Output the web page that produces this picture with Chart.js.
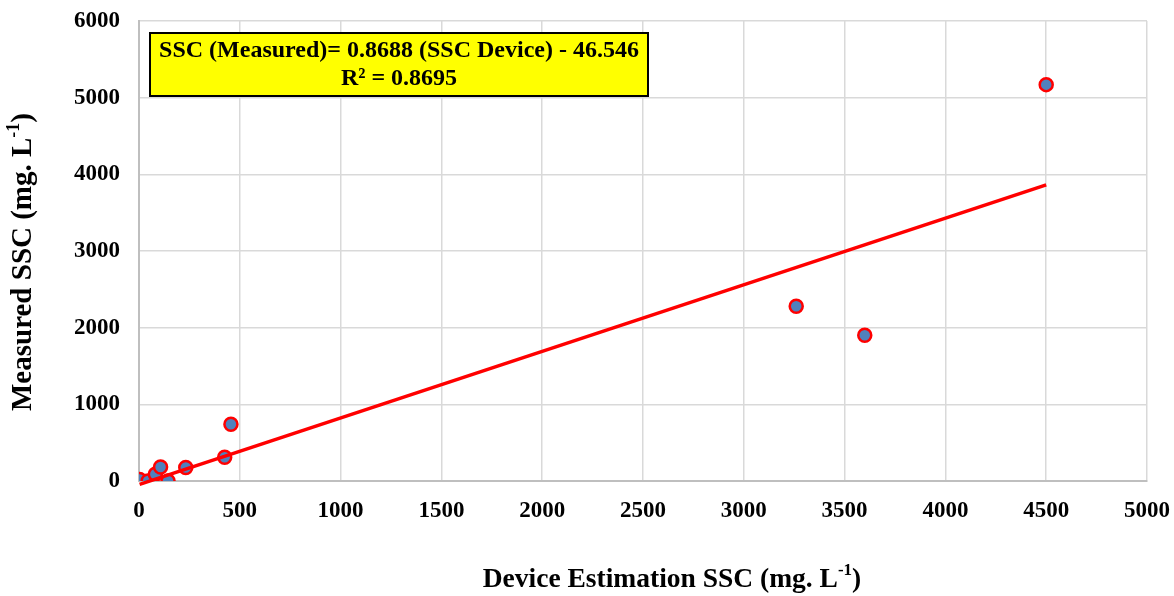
<!DOCTYPE html>
<html>
<head>
<meta charset="utf-8">
<script src="https://cdn.jsdelivr.net/npm/chart.js@4/dist/chart.umd.min.js"></script>
<style>
  html, body { margin: 0; padding: 0; background: #fff; }
  #wrap { width: 1174px; height: 596px; position: relative; }
</style>
</head>
<body>
<div id="wrap"><canvas id="sscChart"></canvas></div>
<script>
// values
const deviceSSC   = [3, 45, 81, 107, 144, 232, 425, 456, 3260, 3600, 4500];
const measuredSSC = [20, 0, 88, 183, 0, 175, 310, 740, 2280, 1900, 5170];

// linear fit given on the chart
const slope = 0.8688;
const intercept = -46.546;
const rSquared = 0.8695;

const xTicks = [0, 500, 1000, 1500, 2000, 2500, 3000, 3500, 4000, 4500, 5000];
const yTicks = [0, 1000, 2000, 3000, 4000, 5000, 6000];

const serif = '"Liberation Serif", "Times New Roman", serif';

const points = deviceSSC.map((x, i) => ({ x: x, y: measuredSSC[i] }));
const xMin = Math.min(...deviceSSC);
const xMax = Math.max(...deviceSSC);
const trend = [xMin, xMax].map(x => ({ x: x, y: slope * x + intercept }));

// text with a "-1" superscript before the closing bracket
function drawUnitText(ctx, base, sup, tail, cx, cy, size) {
    const mainFont = 'bold ' + size + 'px ' + serif;
    const supFont = 'bold ' + Math.round(size * 0.62) + 'px ' + serif;
    ctx.font = mainFont;
    const w1 = ctx.measureText(base).width;
    const w3 = ctx.measureText(tail).width;
    ctx.font = supFont;
    const w2 = ctx.measureText(sup).width;
    const start = cx - (w1 + w2 + w3) / 2;
    ctx.textBaseline = 'middle';
    ctx.textAlign = 'left';
    ctx.fillStyle = '#000';
    ctx.font = mainFont;
    ctx.fillText(base, start, cy);
    ctx.font = supFont;
    ctx.fillText(sup, start + w1, cy - size * 0.33);
    ctx.font = mainFont;
    ctx.fillText(tail, start + w1 + w2, cy);
}

const overlay = {
    id: 'overlay',
    afterDraw(chart) {
        const ctx = chart.ctx;
        const a = chart.chartArea;
        ctx.save();
        // equation box
        const bx = a.left + 11, by = a.top + 12, bw = 498, bh = 63;
        ctx.fillStyle = '#ffff00';
        ctx.fillRect(bx, by, bw, bh);
        ctx.lineWidth = 2;
        ctx.strokeStyle = '#000';
        ctx.strokeRect(bx, by, bw, bh);
        ctx.fillStyle = '#000';
        ctx.textAlign = 'center';
        ctx.textBaseline = 'middle';
        ctx.font = 'bold 24px ' + serif;
        ctx.fillText('SSC (Measured)= ' + slope + ' (SSC Device) - ' + Math.abs(intercept), bx + bw / 2, by + 18);
        ctx.fillText('R\u00b2 = ' + rSquared, bx + bw / 2, by + 46);

        // axis titles
        drawUnitText(ctx, 'Device Estimation SSC (mg. L', '-1', ')', 672, 580, 27.5);
        ctx.translate(24, 262);
        ctx.rotate(-Math.PI / 2);
        drawUnitText(ctx, 'Measured SSC (mg. L', '-1', ')', 0, 0, 29);
        ctx.restore();
    }
};

new Chart(document.getElementById('sscChart'), {
    type: 'scatter',
    data: {
        datasets: [
            {
                type: 'line',
                label: 'Linear fit',
                data: trend,
                borderColor: '#ff0000',
                borderWidth: 3.5,
                pointRadius: 0,
                fill: false,
                clip: false
            },
            {
                label: 'SSC',
                data: points,
                backgroundColor: '#4f81bd',
                borderColor: '#ff0000',
                borderWidth: 2.5,
                pointRadius: 6.5,
                pointHoverRadius: 6.5
            }
        ]
    },
    options: {
        responsive: true,
        maintainAspectRatio: false,
        animation: false,
        layout: { padding: { top: 21, right: 0, left: 0, bottom: 0 } },
        plugins: {
            legend: { display: false },
            tooltip: { enabled: false }
        },
        scales: {
            x: {
                type: 'linear',
                min: 0,
                max: 5000,
                afterBuildTicks: axis => { axis.ticks = xTicks.map(v => ({ value: v })); },
                afterFit: axis => { axis.height = 115; axis.paddingRight = 27; },
                grid: { color: '#d9d9d9', lineWidth: 1.5, drawTicks: false },
                border: { color: '#bfbfbf', width: 2 },
                ticks: {
                    padding: 16,
                    color: '#000',
                    font: { family: serif, size: 23, weight: 'bold' },
                    callback: v => String(v)
                }
            },
            y: {
                type: 'linear',
                min: 0,
                max: 6000,
                afterBuildTicks: axis => { axis.ticks = yTicks.map(v => ({ value: v })); },
                afterFit: axis => { axis.width = 139; axis.paddingTop = 0; },
                grid: { color: '#d9d9d9', lineWidth: 1.5, drawTicks: false },
                border: { color: '#bfbfbf', width: 2 },
                ticks: {
                    padding: 19,
                    color: '#000',
                    font: { family: serif, size: 23, weight: 'bold' },
                    callback: v => String(v)
                }
            }
        }
    },
    plugins: [overlay]
});
</script>
</body>
</html>
